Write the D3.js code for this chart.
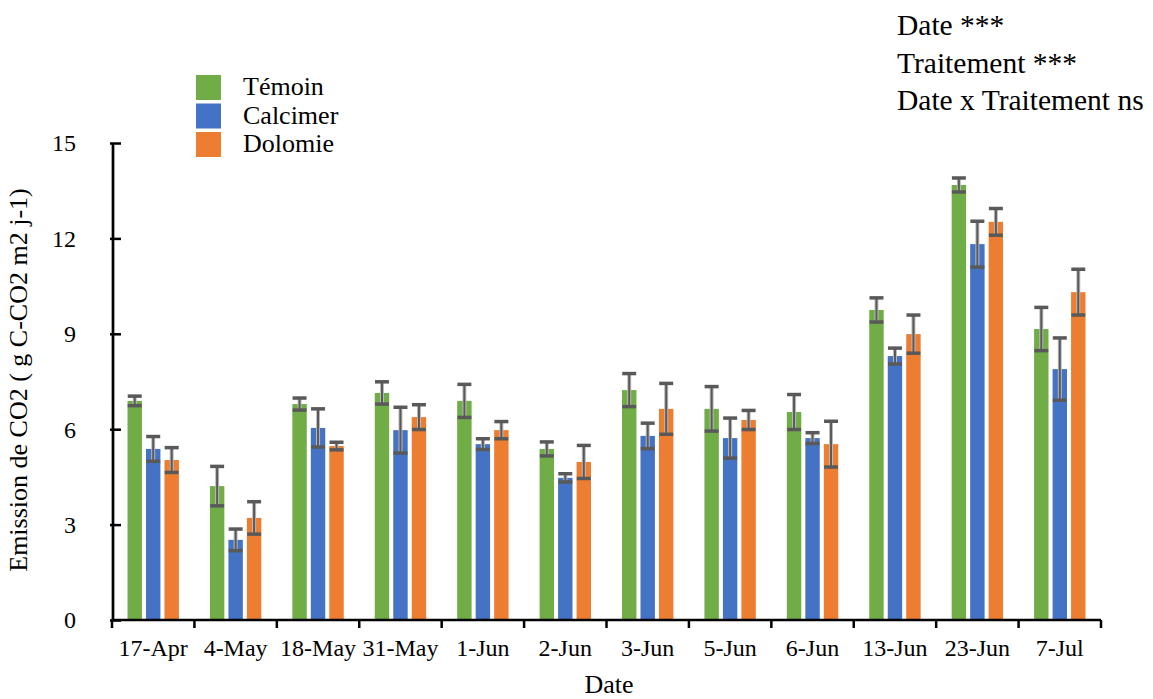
<!DOCTYPE html>
<html><head><meta charset="utf-8">
<script src="https://cdn.jsdelivr.net/npm/d3@7"></script>
<style>body{margin:0;background:#fff}svg{display:block}text{font-family:"Liberation Serif","Times New Roman",serif;fill:#000}</style>
</head><body><svg id="c" width="1153" height="699"></svg>
<script>
const dates = ["17-Apr","4-May","18-May","31-May","1-Jun","2-Jun","3-Jun","5-Jun","6-Jun","13-Jun","23-Jun","7-Jul"];
const seriesNames = ["Témoin","Calcimer","Dolomie"];
const temoin = [6.89,4.21,6.79,7.14,6.89,5.38,7.23,6.64,6.54,9.75,13.68,9.15];
const temoinErr = [0.15,0.62,0.19,0.35,0.52,0.22,0.52,0.70,0.55,0.38,0.22,0.68];
const calcimer = [5.38,2.52,6.04,5.97,5.53,4.47,5.79,5.72,5.72,8.30,11.82,7.89];
const calcimerErr = [0.39,0.34,0.60,0.72,0.17,0.13,0.40,0.63,0.17,0.25,0.72,0.98];
const dolomie = [5.03,3.21,5.47,6.38,5.97,4.97,6.64,6.29,5.53,8.99,12.52,10.31];
const dolomieErr = [0.39,0.51,0.12,0.39,0.27,0.52,0.80,0.30,0.72,0.60,0.42,0.72];
const yTicks = [0,3,6,9,12,15];
const statsLines = ["Date ***","Traitement ***","Date x Traitement ns"];
const colors = ["#70AD47","#4472C4","#ED7D31"];

const values = [temoin, calcimer, dolomie];
const errs = [temoinErr, calcimerErr, dolomieErr];
const svg = d3.select("#c");
const y = d3.scaleLinear().domain([0,15]).range([620,143]);
const x = d3.scaleBand().domain(dates).range([112,1101]).padding(0);
const xi = d3.scaleBand().domain(seriesNames).range([-25.7,25.7]).paddingInner(0.22).paddingOuter(0);

const data = [];
seriesNames.forEach((s,si)=>dates.forEach((d,di)=>data.push({s,si,d,v:values[si][di],e:errs[si][di]})));

const cx = d => x(d.d) + x.bandwidth()/2 + xi(d.s);
svg.append("g").selectAll("rect").data(data).join("rect")
  .attr("x", cx).attr("width", xi.bandwidth())
  .attr("y", d=>y(d.v)).attr("height", d=>y(0)-y(d.v))
  .attr("fill", d=>colors[d.si]);

const eb = svg.append("g").selectAll("g").data(data).join("g");
const mx = d => cx(d) + xi.bandwidth()/2;
eb.append("line").attr("x1",mx).attr("x2",mx).attr("y1",d=>y(d.v+d.e)).attr("y2",d=>y(d.v-d.e))
  .attr("stroke","#bbb").attr("stroke-width",4);
eb.append("line").attr("x1",mx).attr("x2",mx).attr("y1",d=>y(d.v+d.e)).attr("y2",d=>y(d.v-d.e))
  .attr("stroke","#595959").attr("stroke-width",2);
[1,-1].forEach(sg=>{
  eb.append("line").attr("x1",d=>mx(d)-7).attr("x2",d=>mx(d)+7)
    .attr("y1",d=>y(d.v+sg*d.e)).attr("y2",d=>y(d.v+sg*d.e))
    .attr("stroke","#595959").attr("stroke-width",3.5);
});

// Y axis
const ya = svg.append("g").attr("transform","translate(113,0)")
  .call(d3.axisRight(y).tickValues(yTicks).tickSize(8).tickFormat(""));
ya.select(".domain").remove();
ya.selectAll(".tick line").attr("stroke","#000").attr("stroke-width",2.5).attr("x1",-3);
svg.append("line").attr("x1",113).attr("x2",113).attr("y1",y(15)).attr("y2",y(0)+1.5).attr("stroke","#000").attr("stroke-width",2.7);
svg.append("g").selectAll("text").data(yTicks).join("text")
  .attr("x",76).attr("y",d=>y(d)).attr("dy","0.35em").attr("text-anchor","end")
  .attr("font-size",24).text(d=>d);

// X axis
svg.append("line").attr("x1",111.7).attr("x2",x.range()[1]).attr("y1",y(0)).attr("y2",y(0)).attr("stroke","#000").attr("stroke-width",2.7);
const bounds = dates.map(d=>x(d)).concat([x.range()[1]]);
svg.append("g").selectAll("line").data(bounds).join("line")
  .attr("x1",d=>d).attr("x2",d=>d).attr("y1",y(0)).attr("y2",y(0)+8)
  .attr("stroke","#000").attr("stroke-width",2.5);
svg.append("g").selectAll("text").data(dates).join("text")
  .attr("x",d=>x(d)+x.bandwidth()/2).attr("y",656).attr("text-anchor","middle")
  .attr("font-size",24).text(d=>d);

// Axis titles
svg.append("text").attr("x",609).attr("y",693).attr("text-anchor","middle").attr("font-size",26).text("Date");
svg.append("text").attr("transform","translate(27,380) rotate(-90)").attr("text-anchor","middle").attr("font-size",26)
  .text("Emission de CO2 ( g C-CO2 m2 j-1)");

// Legend
const lg = svg.append("g").selectAll("g").data(seriesNames).join("g")
  .attr("transform",(d,i)=>`translate(196,${75+i*28.5})`);
lg.append("rect").attr("width",25).attr("height",25).attr("fill",(d,i)=>colors[i]);
lg.append("text").attr("x",47).attr("y",20).attr("font-size",26).text(d=>d);

// Stats
svg.append("g").selectAll("text").data(statsLines).join("text")
  .attr("x",897).attr("y",(d,i)=>35+i*37.5).attr("font-size",29.5).text(d=>d);
</script></body></html>
